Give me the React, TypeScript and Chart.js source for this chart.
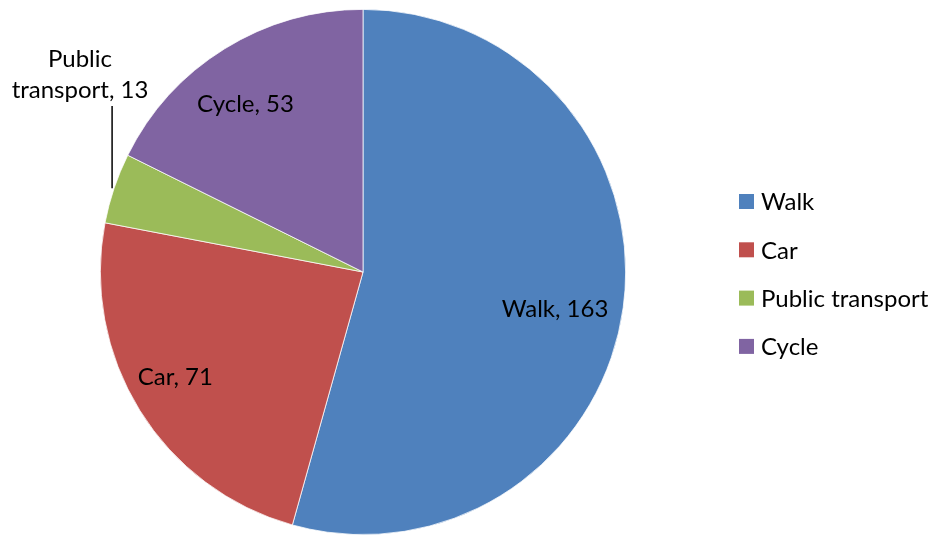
import React, { useEffect, useRef } from "react";
import { Chart, registerables } from "chart.js";

Chart.register(...registerables);

const categories = ["Walk", "Car", "Public transport", "Cycle"];
const values = [163, 71, 13, 53];
const colors = ["#4F81BD", "#C0504D", "#9BBB59", "#8064A2"];

const FONT = "Lato, 'Open Sans', sans-serif";
// label placement: radial fraction and angular nudge (degrees)
const labelFrac = [0.745, 0.82, 1, 0.78];
const labelNudge = [3.2, 2.4, 0, -3.2];

const labelPlugin = {
  id: "pieLabels",
  afterDatasetsDraw(chart: any) {
    const ctx = chart.ctx;
    const meta = chart.getDatasetMeta(0);
    ctx.save();
    ctx.fillStyle = "#000";
    ctx.font = `24px ${FONT}`;
    ctx.textAlign = "center";
    ctx.textBaseline = "middle";
    meta.data.forEach((arc: any, i: number) => {
      const mid = (arc.startAngle + arc.endAngle) / 2;
      const r = arc.outerRadius;
      const text = `${categories[i]}, ${values[i]}`;
      if (i === 2) {
        const px = arc.x + Math.cos(mid) * r;
        const py = arc.y + Math.sin(mid) * r;
        ctx.strokeStyle = "#000";
        ctx.lineWidth = 1.5;
        ctx.beginPath();
        ctx.moveTo(px - 2, py);
        ctx.lineTo(px - 2, 106);
        ctx.stroke();
        ctx.fillText("Public", 80, 59);
        ctx.fillText(text.replace("Public ", ""), 80, 90);
      } else {
        const a = mid + (labelNudge[i] * Math.PI) / 180;
        const f = labelFrac[i];
        ctx.fillText(text, arc.x + Math.cos(a) * r * f, arc.y + Math.sin(a) * r * f);
      }
    });
    // legend
    ctx.textAlign = "left";
    ctx.font = `24px ${FONT}`;
    categories.forEach((c, i) => {
      const y = 201.5 + i * 48.3;
      ctx.fillStyle = colors[i];
      ctx.fillRect(739, y - 7.5, 15, 15);
      ctx.fillStyle = "#000";
      ctx.fillText(c, 761, y + 1);
    });
    ctx.restore();
  },
};

export default function App() {
  const ref = useRef<HTMLCanvasElement>(null);
  useEffect(() => {
    document.body.style.margin = "0";
    const chart = new Chart(ref.current!, {
      type: "pie",
      data: {
        labels: categories,
        datasets: [
          {
            data: values,
            backgroundColor: colors,
            borderColor: "#FFFFFF",
            borderWidth: 0.75,
          },
        ],
      },
      options: {
        animation: false,
        responsive: false,
        layout: { padding: { left: 100, right: 310, top: 9, bottom: 0 } },
        plugins: { legend: { display: false }, tooltip: { enabled: false } },
      },
      plugins: [labelPlugin],
    });
    return () => chart.destroy();
  }, []);
  return <canvas ref={ref} width={936} height={535} style={{ display: "block" }} />;
}
